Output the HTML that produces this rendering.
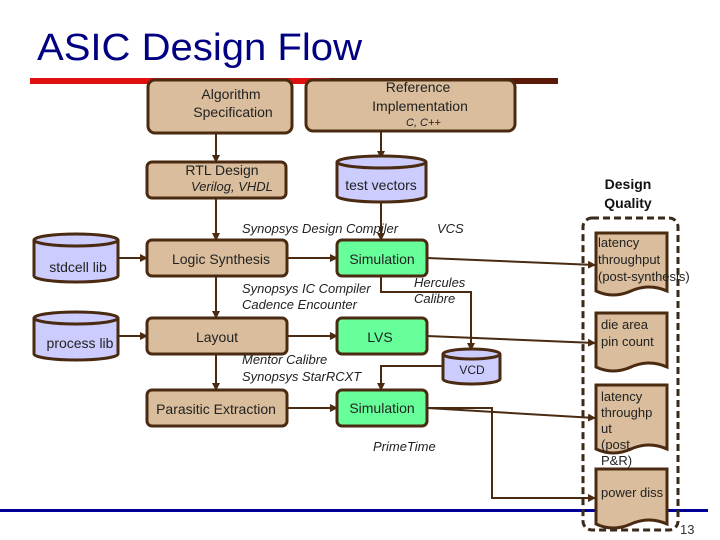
<!DOCTYPE html>
<html><head><meta charset="utf-8"><style>
html,body{margin:0;padding:0;background:#fff;}
svg{display:block;font-family:"Liberation Sans",Arial,sans-serif;}
</style></head><body>
<svg width="720" height="540" viewBox="0 0 720 540" xmlns="http://www.w3.org/2000/svg">
<defs>
<marker id="a" markerWidth="8" markerHeight="8" refX="7" refY="4" orient="auto" markerUnits="userSpaceOnUse"><path d="M0,0 L8,4 L0,8 z" fill="#4a2a10"/></marker>
</defs>
<text x="37" y="60" font-size="38" fill="#000080" textLength="325" lengthAdjust="spacingAndGlyphs">ASIC Design Flow</text>
<rect x="30" y="78" width="300" height="6" fill="#e01010"/>
<rect x="330" y="78" width="228" height="6" fill="#5a1a08"/>
<rect x="0" y="509" width="708" height="3" fill="#000099"/>
<text x="680" y="534" font-size="13" fill="#333">13</text>

<g stroke="#4a2a10" stroke-width="2" fill="none">
<line x1="216" y1="133" x2="216" y2="162" marker-end="url(#a)"/>
<line x1="216" y1="198" x2="216" y2="240" marker-end="url(#a)"/>
<line x1="216" y1="276" x2="216" y2="318" marker-end="url(#a)"/>
<line x1="216" y1="354" x2="216" y2="390" marker-end="url(#a)"/>
<line x1="381" y1="131" x2="381" y2="158" marker-end="url(#a)"/>
<line x1="381" y1="202" x2="381" y2="240" marker-end="url(#a)"/>
<line x1="118" y1="258" x2="147" y2="258" marker-end="url(#a)"/>
<line x1="118" y1="336" x2="147" y2="336" marker-end="url(#a)"/>
<line x1="287" y1="258" x2="337" y2="258" marker-end="url(#a)"/>
<line x1="287" y1="336" x2="337" y2="336" marker-end="url(#a)"/>
<line x1="287" y1="408" x2="337" y2="408" marker-end="url(#a)"/>
<line x1="427" y1="258" x2="595" y2="265" marker-end="url(#a)"/>
<line x1="427" y1="336" x2="595" y2="343" marker-end="url(#a)"/>
<line x1="427" y1="408" x2="595" y2="418" marker-end="url(#a)"/>
<polyline points="427,408 492,408 492,498 595,498" marker-end="url(#a)"/>
<polyline points="381,276 381,292 471,292 471,350" marker-end="url(#a)"/>
<polyline points="443,366 381,366 381,390" marker-end="url(#a)"/>
</g>

<g stroke="#4a2a10" stroke-width="3" fill="#d9bd9c">
<rect x="148" y="80" width="144" height="53" rx="7"/>
<rect x="306" y="80" width="209" height="51" rx="7"/>
<rect x="147" y="162" width="139" height="36" rx="5"/>
<rect x="147" y="240" width="140" height="36" rx="5"/>
<rect x="147" y="318" width="140" height="36" rx="5"/>
<rect x="147" y="390" width="140" height="36" rx="5"/>
</g>
<g stroke="#4a2a10" stroke-width="3" fill="#66ff99">
<rect x="337" y="240" width="90" height="36" rx="5"/>
<rect x="337" y="318" width="90" height="36" rx="5"/>
<rect x="337" y="390" width="90" height="36" rx="5"/>
</g>
<g stroke="#4a2a10" stroke-width="3" fill="#ccccff">
<path d="M337,162 v34 a44.5,6 0 0 0 89,0 v-34"/><ellipse cx="381.5" cy="162" rx="44.5" ry="6"/>
<path d="M34,240 v36 a42,6 0 0 0 84,0 v-36"/><ellipse cx="76" cy="240" rx="42" ry="6"/>
<path d="M34,318 v36 a42,6 0 0 0 84,0 v-36"/><ellipse cx="76" cy="318" rx="42" ry="6"/>
<path d="M443,354 v25 a28.5,5 0 0 0 57,0 v-25"/><ellipse cx="471.5" cy="354" rx="28.5" ry="5"/>
</g>
<rect x="583" y="218" width="95" height="312" rx="9" fill="none" stroke="#3a2a1a" stroke-width="3" stroke-dasharray="7,4"/>
<g stroke="#4a2a10" stroke-width="3" fill="#d9bd9c">
<path d="M596,233 h71 v58 q-18,-8 -36,0 t-35,0 z"/>
<path d="M596,313 h71 v54 q-18,-8 -36,0 t-35,0 z"/>
<path d="M596,385 h71 v64 q-18,-8 -36,0 t-35,0 z"/>
<path d="M596,469 h71 v55 q-18,-8 -36,0 t-35,0 z"/>
</g>

<g font-size="14" fill="#222" text-anchor="middle">
<text x="231" y="99">Algorithm</text>
<text x="233" y="117">Specification</text>
<text x="418" y="92">Reference</text>
<text x="420" y="111">Implementation</text>
<text x="222" y="175">RTL Design</text>
<text x="221" y="264">Logic Synthesis</text>
<text x="217" y="342">Layout</text>
<text x="216" y="414">Parasitic Extraction</text>
<text x="382" y="264">Simulation</text>
<text x="380" y="342">LVS</text>
<text x="382" y="413">Simulation</text>
<text x="381" y="190">test vectors</text>
<text x="78" y="272">stdcell lib</text>
<text x="80" y="348">process lib</text>
</g>
<text x="472" y="374" font-size="12" fill="#222" text-anchor="middle">VCD</text>
<g font-size="13" fill="#222" font-style="italic">
<text x="406" y="126" font-size="11">C, C++</text>
<text x="191" y="191">Verilog, VHDL</text>
<text x="242" y="233">Synopsys Design Compiler</text>
<text x="437" y="233">VCS</text>
<text x="242" y="293">Synopsys IC Compiler</text>
<text x="242" y="309">Cadence Encounter</text>
<text x="414" y="287">Hercules</text>
<text x="414" y="303">Calibre</text>
<text x="242" y="364">Mentor Calibre</text>
<text x="242" y="381">Synopsys StarRCXT</text>
<text x="373" y="451">PrimeTime</text>
</g>
<g font-size="14" font-weight="bold" fill="#111" text-anchor="middle">
<text x="628" y="189">Design</text>
<text x="628" y="208">Quality</text>
</g>
<g font-size="13" fill="#222">
<text x="598" y="247">latency</text>
<text x="598" y="264">throughput</text>
<text x="598" y="281">(post-synthesis)</text>
<text x="601" y="329">die area</text>
<text x="601" y="346">pin count</text>
<text x="601" y="401">latency</text>
<text x="601" y="417">throughp</text>
<text x="601" y="433">ut</text>
<text x="601" y="449">(post</text>
<text x="601" y="465">P&amp;R)</text>
<text x="601" y="497">power diss</text>
</g>
</svg>
</body></html>
